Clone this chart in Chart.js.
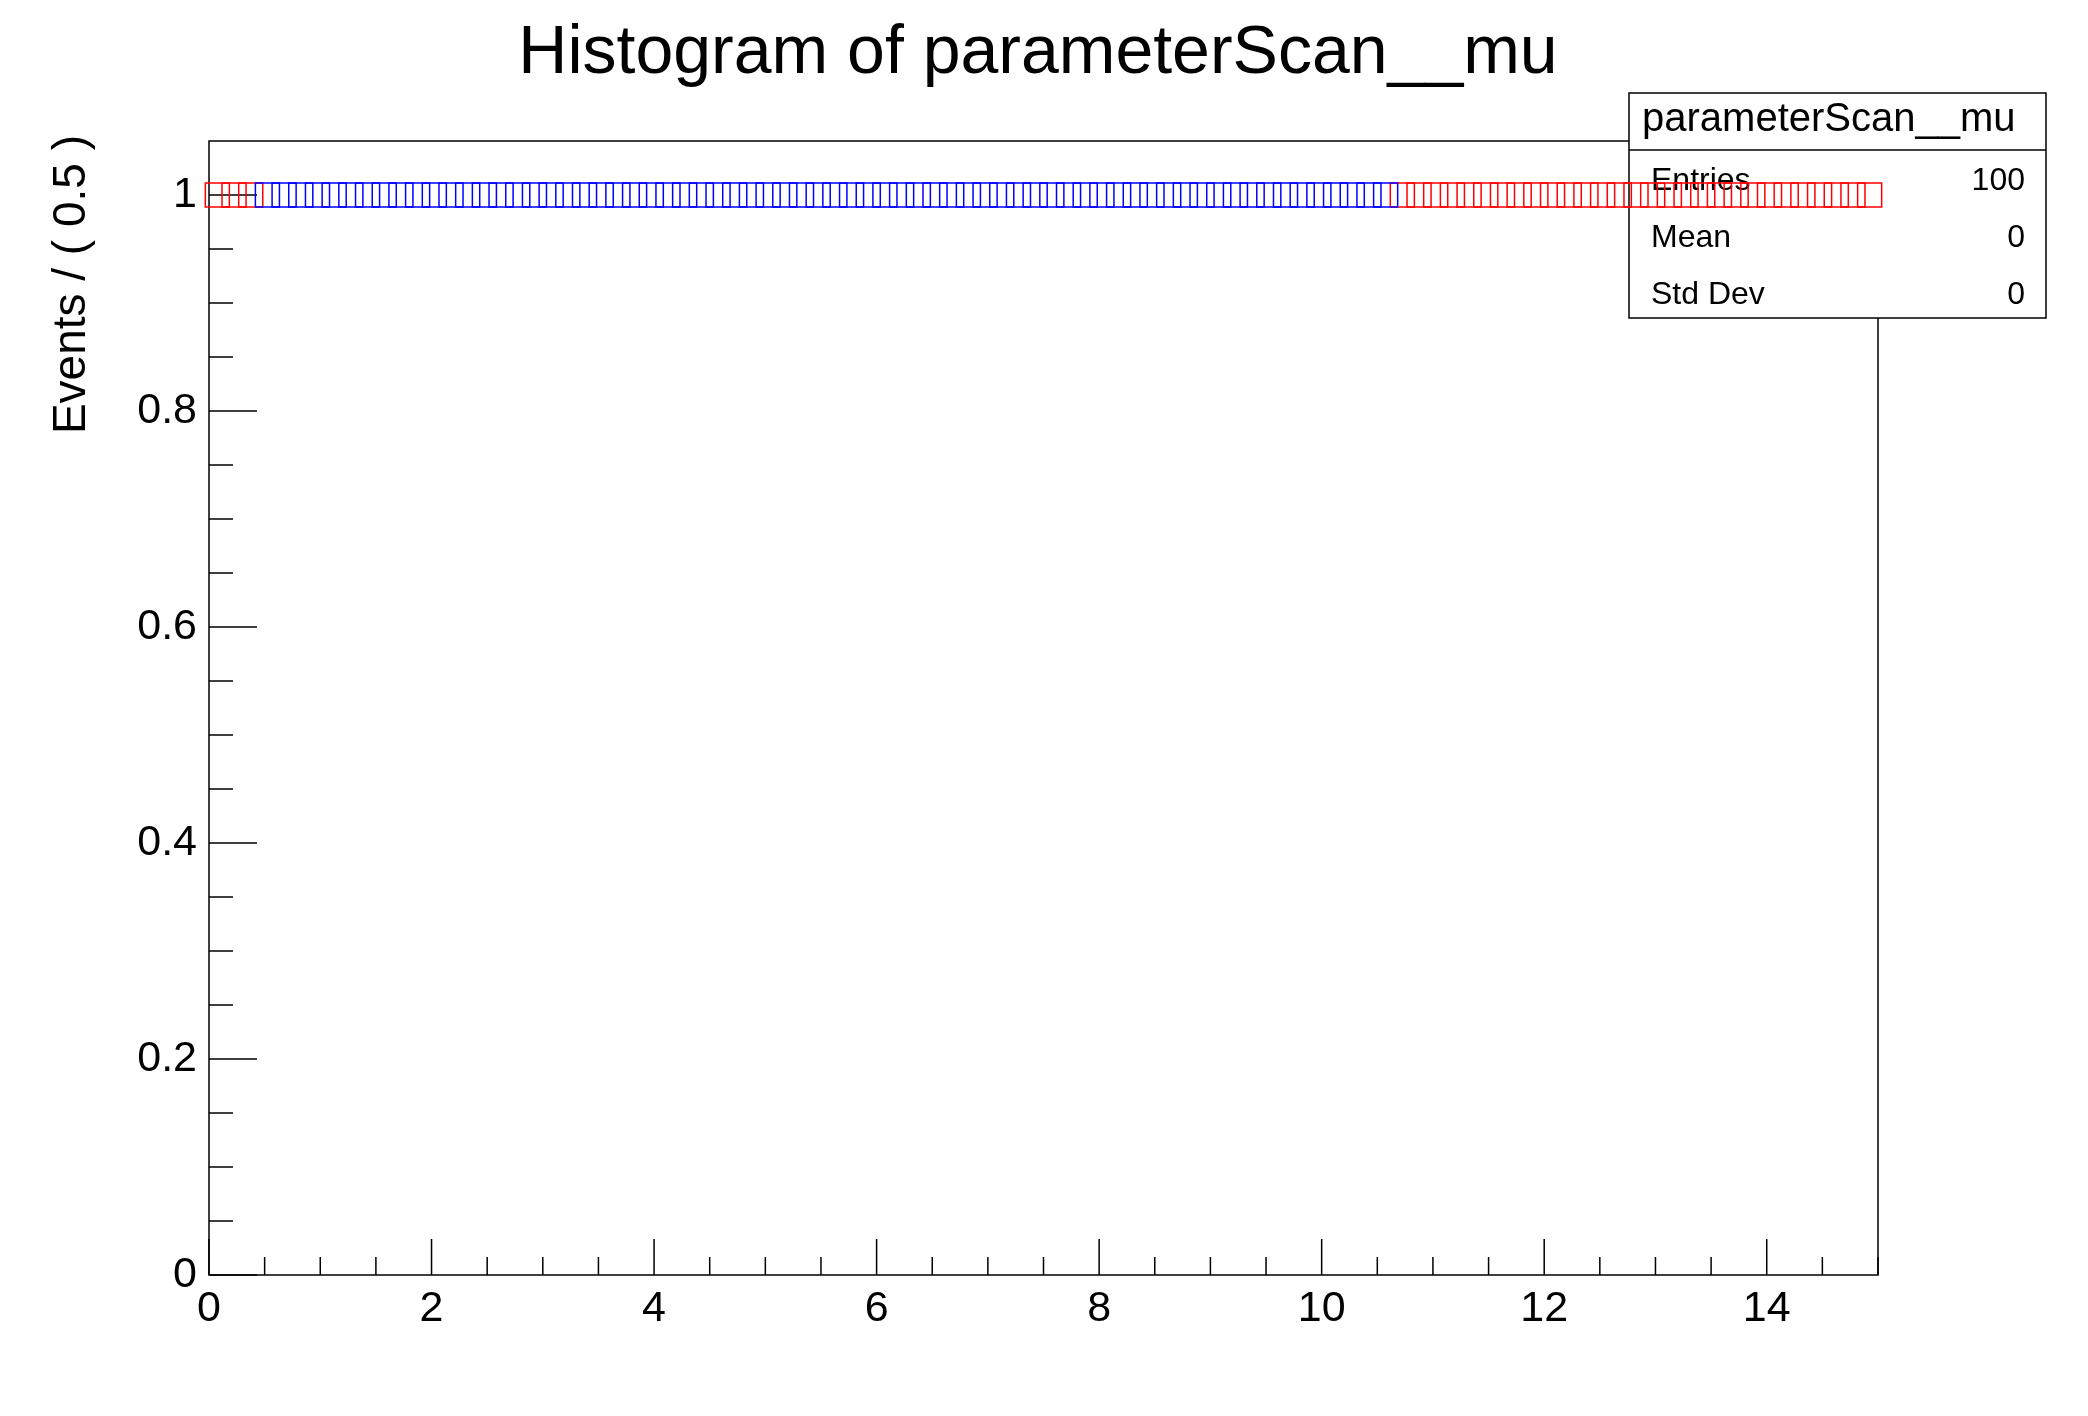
<!DOCTYPE html>
<html>
<head>
<meta charset="utf-8">
<title>Histogram of parameterScan__mu</title>
<script src="https://cdn.jsdelivr.net/npm/chart.js@4.4.1/dist/chart.umd.min.js"></script>
<style>
  html, body { margin: 0; padding: 0; background: #fff; }
  #wrap { width: 2088px; height: 1416px; }
</style>
</head>
<body>
<div id="wrap"><canvas id="histo" width="2088" height="1416"></canvas></div>
<script>
const chartTitle = 'Histogram of parameterScan__mu';
const yAxisTitle = 'Events / ( 0.5 )';
const statsTitle = 'parameterScan__mu';
const statNames = ['Entries', 'Mean', 'Std Dev'];
const statValues = ['100', '0', '0'];

// scan points of mu, blue ones in the middle, red ones at both ends
const blueMu = [0.525, 0.675, 0.825, 0.975, 1.125, 1.275, 1.425, 1.575, 1.725, 1.875,
  2.025, 2.175, 2.325, 2.475, 2.625, 2.775, 2.925, 3.075, 3.225, 3.375,
  3.525, 3.675, 3.825, 3.975, 4.125, 4.275, 4.425, 4.575, 4.725, 4.875,
  5.025, 5.175, 5.325, 5.475, 5.625, 5.775, 5.925, 6.075, 6.225, 6.375,
  6.525, 6.675, 6.825, 6.975, 7.125, 7.275, 7.425, 7.575, 7.725, 7.875,
  8.025, 8.175, 8.325, 8.475, 8.625, 8.775, 8.925, 9.075, 9.225, 9.375,
  9.525, 9.675, 9.825, 9.975, 10.125, 10.275, 10.425, 10.575];
const redMu = [0.075, 0.225, 0.375,
  10.725, 10.875, 11.025, 11.175, 11.325, 11.475, 11.625, 11.775, 11.925, 12.075,
  12.225, 12.375, 12.525, 12.675, 12.825, 12.975, 13.125, 13.275, 13.425, 13.575,
  13.725, 13.875, 14.025, 14.175, 14.325, 14.475, 14.625, 14.775, 14.925];
// every scan point holds one event
const eventsPerPoint = 1;

const xTicks = [0, 2, 4, 6, 8, 10, 12, 14];
const yTicks = [0, 0.2, 0.4, 0.6, 0.8, 1];

const font = '"Liberation Sans", Arial, Helvetica, sans-serif';

const rootDecor = {
  id: 'rootDecor',
  beforeDatasetsDraw(chart) {
    const { ctx, chartArea: a, scales: { x, y } } = chart;
    ctx.save();
    ctx.strokeStyle = '#000';
    ctx.lineWidth = 1.5;
    ctx.strokeRect(a.left, a.top, a.right - a.left, a.bottom - a.top);

    // tick marks inside the frame
    ctx.beginPath();
    for (let v = 0; v <= 15; v += 0.5) {
      const px = x.getPixelForValue(v);
      const len = xTicks.includes(v) ? 36 : 18;
      ctx.moveTo(px, a.bottom);
      ctx.lineTo(px, a.bottom - len);
    }
    for (let k = 0; k <= 20; k++) {
      const v = k * 0.05;
      const py = y.getPixelForValue(v);
      const len = k % 4 === 0 ? 48 : 24;
      ctx.moveTo(a.left, py);
      ctx.lineTo(a.left + len, py);
    }
    ctx.stroke();

    // stats box
    const bx = 1629, by = 93, bw = 417, bh = 225;
    ctx.fillStyle = '#fff';
    ctx.fillRect(bx, by, bw, bh);
    ctx.strokeRect(bx, by, bw, bh);
    ctx.beginPath();
    ctx.moveTo(bx, 150);
    ctx.lineTo(bx + bw, 150);
    ctx.stroke();
    ctx.fillStyle = '#000';
    ctx.textBaseline = 'alphabetic';
    ctx.font = '40px ' + font;
    ctx.textAlign = 'left';
    ctx.fillText(statsTitle, 1642, 131);
    ctx.font = '32px ' + font;
    const rows = [190, 247, 304];
    statNames.forEach((n, i) => {
      ctx.textAlign = 'left';
      ctx.fillText(n, 1651, rows[i]);
      ctx.textAlign = 'right';
      ctx.fillText(statValues[i], 2025, rows[i]);
    });
    ctx.restore();
  },
  afterDraw(chart) {
    const { ctx } = chart;
    ctx.save();
    ctx.fillStyle = '#000';
    ctx.textBaseline = 'alphabetic';
    ctx.font = '68px ' + font;
    ctx.textAlign = 'center';
    ctx.fillText(chartTitle, 1038, 73);

    ctx.translate(85, 135);
    ctx.rotate(-Math.PI / 2);
    ctx.font = '46px ' + font;
    ctx.textAlign = 'right';
    ctx.fillText(yAxisTitle, 0, 0);
    ctx.restore();
  }
};

const pointStyle = {
  showLine: false,
  pointStyle: 'rect',
  pointRadius: 17,
  pointHoverRadius: 17,
  pointBorderWidth: 1.5,
  pointBackgroundColor: 'rgba(0,0,0,0)',
  clip: false
};

new Chart(document.getElementById('histo'), {
  type: 'scatter',
  data: {
    datasets: [
      Object.assign({
        label: 'mu (blue)',
        data: blueMu.map(m => ({ x: m, y: eventsPerPoint })),
        borderColor: '#0000ff',
        pointBorderColor: '#0000ff'
      }, pointStyle),
      Object.assign({
        label: 'mu (red)',
        data: redMu.map(m => ({ x: m, y: eventsPerPoint })),
        borderColor: '#ff0000',
        pointBorderColor: '#ff0000'
      }, pointStyle)
    ]
  },
  plugins: [rootDecor],
  options: {
    responsive: false,
    animation: false,
    devicePixelRatio: 1,
    events: [],
    layout: { padding: { left: 0, right: 210, top: 141, bottom: 0 } },
    plugins: {
      legend: { display: false },
      tooltip: { enabled: false },
      title: { display: false }
    },
    scales: {
      x: {
        type: 'linear',
        min: 0,
        max: 15,
        afterFit: s => { s.height = 141; },
        grid: { display: false, drawTicks: false },
        border: { display: false },
        ticks: {
          stepSize: 2,
          includeBounds: false,
          autoSkip: false,
          maxRotation: 0,
          padding: 8,
          color: '#000',
          font: { family: font, size: 43 },
          callback: v => String(v)
        }
      },
      y: {
        type: 'linear',
        min: 0,
        max: 1.05,
        afterFit: s => { s.width = 209; },
        grid: { display: false, drawTicks: false },
        border: { display: false },
        ticks: {
          stepSize: 0.2,
          includeBounds: false,
          autoSkip: false,
          padding: 12,
          color: '#000',
          font: { family: font, size: 43 },
          callback: v => String(Number(v.toFixed(2)))
        }
      }
    }
  }
});
</script>
</body>
</html>
